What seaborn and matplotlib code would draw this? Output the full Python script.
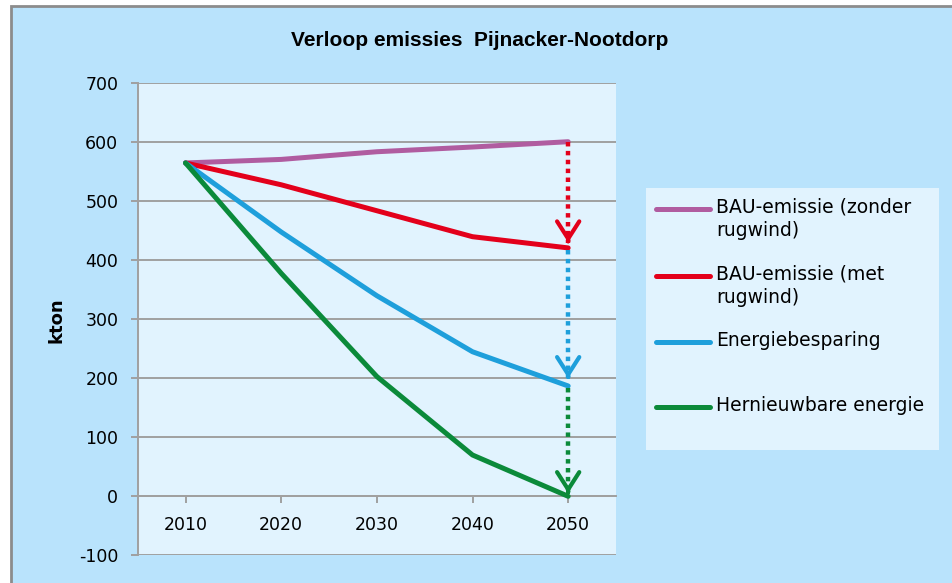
import matplotlib
matplotlib.use("Agg")
import matplotlib.pyplot as plt
import seaborn as sns
import pandas as pd
from matplotlib.patches import Rectangle
from matplotlib.lines import Line2D

years = [2010, 2020, 2030, 2040, 2050]
bau_zonder = [565, 571, 584, 592, 601]
bau_met = [565, 528, 484, 440, 421]
besparing = [565, 448, 340, 245, 187]
hernieuwbaar = [565, 378, 203, 70, 0]

series_names = ["BAU-emissie (zonder\nrugwind)", "BAU-emissie (met\nrugwind)",
                "Energiebesparing", "Hernieuwbare energie"]
series_values = [bau_zonder, bau_met, besparing, hernieuwbaar]
colors = ["#B05CA0", "#E3001B", "#1E9FDB", "#0B8A3A"]

y_ticks = [-100, 0, 100, 200, 300, 400, 500, 600, 700]
title = "Verloop emissies  Pijnacker-Nootdorp"
ylabel = "kton"

# arrows between scenario end values at 2050 (start, tip)
arrow_from = [601, 418, 183]
arrow_to = [430, 200, 5]
arrow_colors = ["#E3001B", "#1E9FDB", "#0B8A3A"]

df = pd.DataFrame({
    "jaar": years * len(series_names),
    "kton": [v for vals in series_values for v in vals],
    "reeks": [n for n in series_names for _ in years],
})

W, H = 953, 583
fig = plt.figure(figsize=(W / 100, H / 100), dpi=100, facecolor="white")
fig.patches.append(Rectangle((11 / W, -0.1), 1.2, (H - 6) / H + 0.1,
                             transform=fig.transFigure, facecolor="#B9E3FC",
                             edgecolor="#8C8C8C", linewidth=2, zorder=-10))

ax = fig.add_axes([137.7 / W, 1 - 555.3 / H, (616 - 137.7) / W, (555.3 - 83.3) / H])
ax.set_facecolor("#E1F3FE")

sns.lineplot(data=df, x="jaar", y="kton", hue="reeks", palette=colors,
             hue_order=series_names, linewidth=3.6, legend=False, ax=ax,
             zorder=3)
for ln in ax.get_lines():
    ln.set_solid_capstyle("round")
    ln.set_solid_joinstyle("round")

for s, e, c in zip(arrow_from, arrow_to, arrow_colors):
    ax.plot([2050, 2050], [s, e], color=c, linewidth=3.2,
            linestyle=(0, (1, 1)), zorder=4, solid_capstyle="butt")
    ax.annotate("", xy=(2050, e), xytext=(2050, e + 3),
                arrowprops=dict(arrowstyle="->,head_length=1.25,head_width=0.8",
                                color=c, lw=3.0, mutation_scale=10,
                                shrinkA=0, shrinkB=0), zorder=5)

ax.set_xlim(2005, 2055)
ax.set_ylim(-100, 700)
ax.set_yticks(y_ticks)
ax.set_yticklabels([str(v) for v in y_ticks])
ax.set_xticks(years)
ax.set_xticklabels([str(v) for v in years])
ax.yaxis.grid(True, color="#A0A0A0", linewidth=1.4, zorder=1)
ax.xaxis.grid(False)
ax.set_axisbelow(True)

for side in ["top", "right"]:
    ax.spines[side].set_visible(False)
ax.spines["left"].set_color("#A0A0A0")
ax.spines["left"].set_linewidth(1.4)
ax.spines["bottom"].set_position(("data", 0))
ax.spines["bottom"].set_color("#A0A0A0")
ax.spines["bottom"].set_linewidth(1.4)

ax.tick_params(axis="y", direction="out", length=5, width=1.4, color="#A0A0A0",
               labelsize=12.5, pad=9, labelcolor="black")
ax.tick_params(axis="x", direction="out", length=5, width=1.4, color="#A0A0A0",
               labelsize=12.5, pad=9, labelcolor="black")
ax.set_xlabel("")
ax.set_ylabel("")

fig.text(57 / W, 1 - 320 / H, ylabel, rotation=90, ha="center", va="center",
         fontsize=13, fontweight="bold", family="DejaVu Sans")
fig.text(480 / W, 1 - 40 / H, title, ha="center", va="center",
         fontsize=15, fontweight="bold", family="Liberation Sans")

# legend box
fig.patches.append(Rectangle((646 / W, 1 - 450 / H), (939 - 646) / W, (450 - 188) / H,
                             transform=fig.transFigure, facecolor="#E1F3FE",
                             edgecolor="none", zorder=1))
legend_y = [209, 276, 342, 407]
for name, c, yy in zip(series_names, colors, legend_y):
    fy = 1 - yy / H
    fig.lines.append(Line2D([656 / W, 710 / W], [fy, fy], transform=fig.transFigure,
                            color=c, linewidth=3.6, solid_capstyle="round", zorder=2))
    fig.text(716 / W, fy + 11 / H, name, ha="left", va="top", fontsize=13.5,
             family="DejaVu Sans", linespacing=1.25, zorder=3)

fig.savefig("out.png", dpi=100, facecolor=fig.get_facecolor())
